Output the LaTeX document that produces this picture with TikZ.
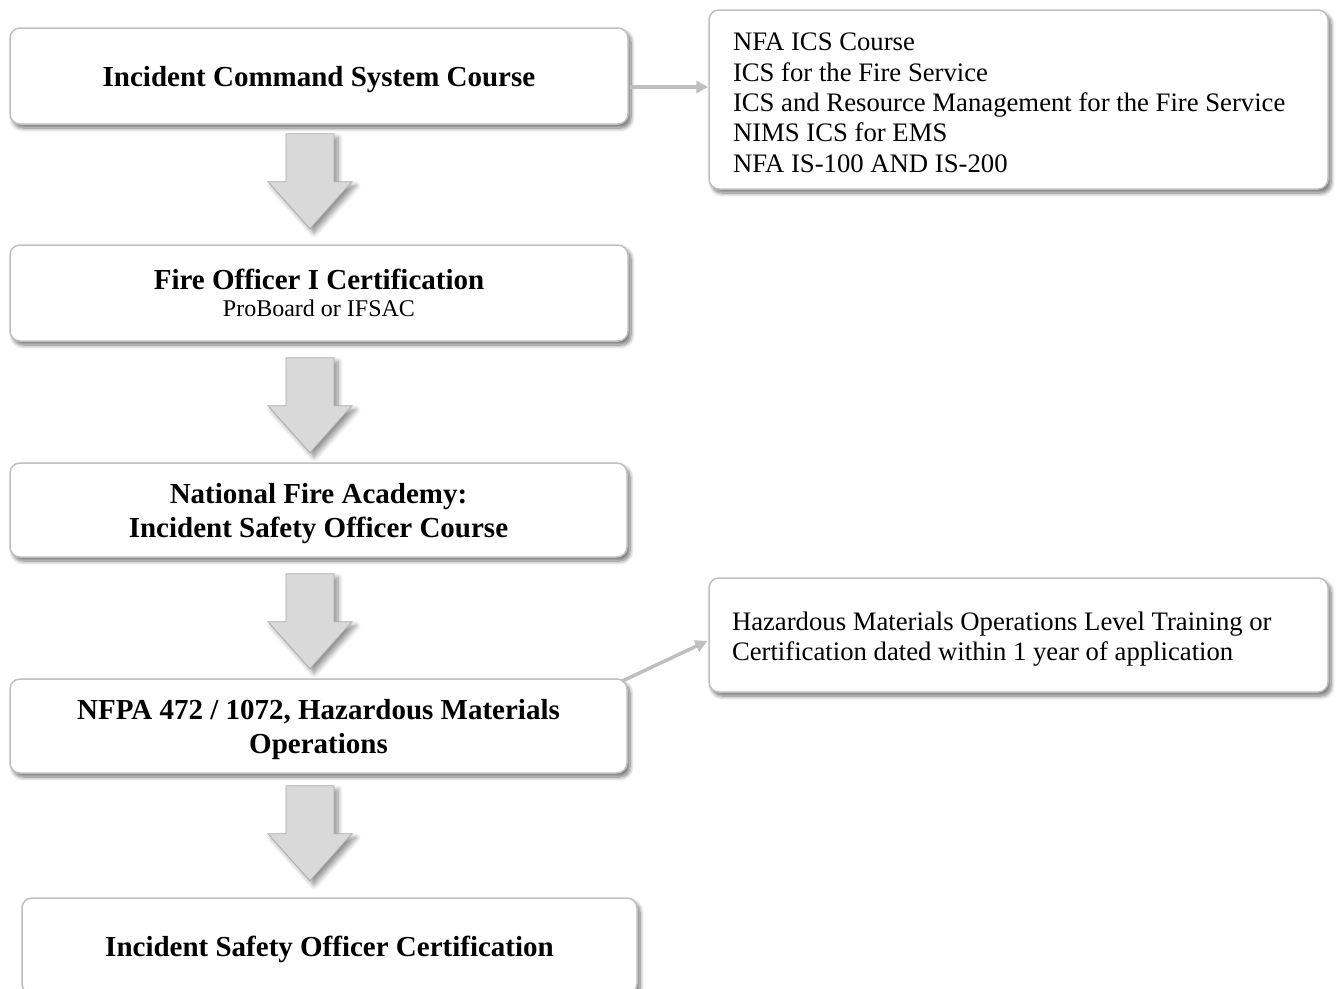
\documentclass[tikz,border=0pt]{standalone}
\usepackage{fontspec}
\setmainfont{Liberation Serif}
\usetikzlibrary{shadows.blur,arrows.meta,calc}
\newcommand\boxtitle{\fontsize{29}{34}\selectfont\bfseries}
\newcommand\boxbody{\fontsize{26.7}{30.3}\selectfont}
\newcommand\boxsmall{\fontsize{24}{27}\selectfont\mdseries}
\newcommand\notelines[3]{\makebox[#1][l]{\raisebox{-#2}[\height][\depth]{\begin{tabular}{@{}l@{}}#3\end{tabular}}}}
\tikzset{
  framebase/.style={draw=gray!50, line width=1.5pt, rounded corners=10pt, fill=white,
    blur shadow={shadow xshift=3pt, shadow yshift=-4pt, shadow blur radius=4pt, shadow blur steps=8, shadow opacity=55},
    inner sep=0pt},
  stagebox/.style={framebase, align=center, font=\boxtitle, text depth=0pt},
  notebox/.style={framebase, font=\boxbody},
  link/.style={draw=gray!50, line width=3.5pt, -{Triangle[length=12pt,width=12pt]}},
  bigarrow/.style={fill=gray!30, draw=gray!65, line width=0.8pt,
    blur shadow={shadow xshift=4pt, shadow yshift=-4pt, shadow blur radius=5pt, shadow blur steps=8, shadow opacity=45}},
  blockarrow/.pic={\path[bigarrow] (-24,0) -- (24,0) -- (24,48) -- (42,48) -- (0,95) -- (-42,48) -- (-24,48) -- cycle;}
}
\begin{document}
\begin{tikzpicture}[x=1pt,y=-1pt]
\useasboundingbox (0,0) rectangle (1338,988);
\node[stagebox, minimum width=618pt, minimum height=96pt] (b1) at (319,76) {Incident Command System Course};
\node[stagebox, minimum width=618pt, minimum height=96pt] (b2) at (319,293) {Fire Officer I Certification\\[-7pt]{\boxsmall ProBoard or IFSAC}};
\node[stagebox, minimum width=617pt, minimum height=94pt] (b3) at (318.5,510) {National Fire Academy:\\Incident Safety Officer Course};
\node[stagebox, minimum width=617pt, minimum height=94pt] (b4) at (318.5,726) {NFPA 472 / 1072, Hazardous Materials\\Operations};
\node[stagebox, minimum width=615pt, minimum height=96pt] (b5) at (329.5,946) {Incident Safety Officer Certification};
\node[notebox, minimum width=619pt, minimum height=179pt] (r1) at (1018.5,99.5) {\notelines{571pt}{6pt}{NFA ICS Course\\ICS for the Fire Service\\ICS and Resource Management for the Fire Service\\NIMS ICS for EMS\\NFA IS-100 AND IS-200}};
\node[notebox, minimum width=619pt, minimum height=114pt] (r2) at (1018.5,635) {\notelines{573pt}{4.5pt}{Hazardous Materials Operations Level Training or\\Certification dated within 1 year of application}};
\path (b1.south) ++(-9,9) pic {blockarrow};
\path (b2.south) ++(-9,16) pic {blockarrow};
\path (b3.south) ++(-8.5,16) pic {blockarrow};
\path (b4.south) ++(-8.5,12) pic {blockarrow};
\coordinate (s1) at ($(b1.east)+(1,11)$);
\draw[link] (s1) -- (r1.west |- s1);
\draw[link] ($(b4.north east)+(-6,3)$) -- ($(r2.west)+(-1,6)$);
\end{tikzpicture}
\end{document}
